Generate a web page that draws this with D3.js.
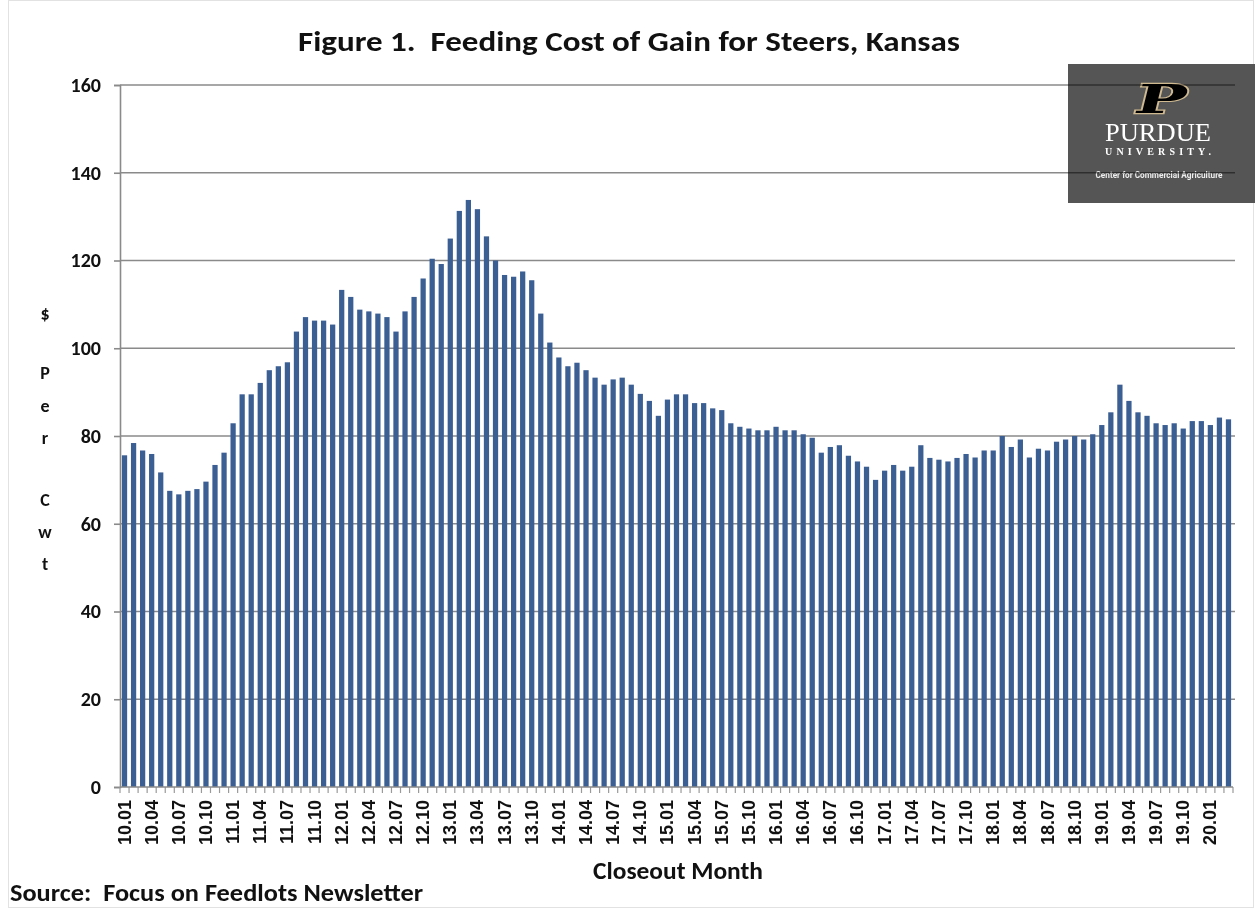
<!DOCTYPE html>
<html>
<head>
<meta charset="utf-8">
<script src="https://cdn.jsdelivr.net/npm/d3@7"></script>
<style>
  html, body { margin: 0; padding: 0; background: #fff; }
  svg { display: block; }
  text { white-space: pre; }
</style>
</head>
<body>
<svg id="chart" width="1255" height="909"></svg>
<script>
// ---- Data ----
const years = ["10","11","12","13","14","15","16","17","18","19","20"];
const months = ["01","02","03","04","05","06","07","08","09","10","11","12"];
const values = [
  75.6, 78.4, 76.7, 75.9, 71.7, 67.5, 66.7, 67.5, 67.9, 69.6, 73.4, 76.2,
  82.9, 89.5, 89.5, 92.1, 95.0, 95.9, 96.8, 103.8, 107.1, 106.3, 106.3, 105.4,
  113.3, 111.7, 108.8, 108.4, 107.9, 107.1, 103.8, 108.4, 111.7, 115.9, 120.4, 119.2,
  125.0, 131.3, 133.8, 131.7, 125.5, 120.0, 116.7, 116.3, 117.5, 115.5, 107.9, 101.3,
  97.9, 95.9, 96.7, 95.0, 93.3, 91.7, 92.9, 93.3, 91.7, 89.6, 88.0, 84.6,
  88.3, 89.5, 89.5, 87.5, 87.5, 86.3, 85.9, 82.9, 82.1, 81.7, 81.3, 81.3,
  82.1, 81.3, 81.3, 80.4, 79.6, 76.2, 77.5, 77.9, 75.5, 74.2, 73.0, 70.0,
  72.1, 73.4, 72.1, 73.0, 77.9, 75.0, 74.6, 74.2, 75.0, 75.9, 75.1, 76.7,
  76.7, 80.0, 77.5, 79.2, 75.1, 77.1, 76.7, 78.7, 79.2, 80.0, 79.2, 80.4,
  82.5, 85.4, 91.7, 88.0, 85.4, 84.6, 82.9, 82.5, 82.9, 81.7, 83.4, 83.4,
  82.5, 84.2, 83.8
];
const categories = values.map((v, i) => years[Math.floor(i / 12)] + "." + months[i % 12]);
const tickLabels = categories.filter((c, i) => i % 3 === 0);
const yTicks = [0, 20, 40, 60, 80, 100, 120, 140, 160];

const title = "Figure 1.  Feeding Cost of Gain for Steers, Kansas";
const yLabelChars = ["$", "P", "e", "r", "C", "w", "t"];
const xTitle = "Closeout Month";
const source = "Source:  Focus on Feedlots Newsletter";

// ---- Layout ----
const svg = d3.select("#chart");
const pLeft = 120, pRight = 1233, pTop = 85, pBottom = 787;
const calibri = "Carlito, Lato, 'Open Sans', sans-serif";
const arial = "'Liberation Sans', Arial, sans-serif";

const x = d3.scaleBand().domain(categories).range([pLeft, pRight]).paddingInner(0.42).paddingOuter(0.21);
const y = d3.scaleLinear().domain([0, 160]).range([pBottom, pTop]);

// outer frame
svg.append("rect").attr("x", 8.5).attr("y", 0.5).attr("width", 1245).attr("height", 907)
  .attr("fill", "none").attr("stroke", "#e2e2e2").attr("stroke-width", 1);

// Purdue logo box (drawn under the gridlines)
const logo = svg.append("g");
logo.append("rect").attr("x", 1068).attr("y", 64).attr("width", 187).attr("height", 139).attr("fill", "#555555");
logo.append("text").attr("x", 0).attr("y", 0)
  .attr("transform", "translate(1158,113) skewX(-14) scale(1.8,1.05)")
  .attr("text-anchor", "middle")
  .attr("font-family", "'DejaVu Serif', serif").attr("font-weight", "bold").attr("font-size", 38)
  .attr("fill", "#000").attr("stroke", "#cfb991").attr("stroke-width", 2.2).attr("paint-order", "stroke")
  .text("P");
logo.append("text").attr("x", 1158).attr("y", 141).attr("text-anchor", "middle")
  .attr("font-family", "'Liberation Serif', 'DejaVu Serif', serif").attr("font-size", 25)
  .attr("fill", "#fff").attr("textLength", 106).attr("lengthAdjust", "spacingAndGlyphs").text("PURDUE");
logo.append("text").attr("x", 1158).attr("y", 155).attr("text-anchor", "middle")
  .attr("font-family", "'Liberation Serif', 'DejaVu Serif', serif").attr("font-weight", "bold").attr("font-size", 10)
  .attr("fill", "#fff").attr("textLength", 106).attr("lengthAdjust", "spacing").text("UNIVERSITY.");
logo.append("text").attr("x", 1159).attr("y", 178).attr("text-anchor", "middle")
  .attr("font-family", "'Liberation Sans Narrow', 'Roboto', sans-serif").attr("font-weight", "bold").attr("font-size", 9.5)
  .attr("fill", "#eeeeee").attr("textLength", 127).attr("lengthAdjust", "spacingAndGlyphs").text("Center for Commercial Agriculture");

// gridlines
svg.append("g").style("mix-blend-mode", "multiply")
  .selectAll("line").data(yTicks.filter(d => d > 0)).join("line")
  .attr("x1", pLeft).attr("x2", pRight + 2)
  .attr("y1", d => y(d)).attr("y2", d => y(d))
  .attr("stroke", "#8a8a8a").attr("stroke-width", 1.6);

// bars
svg.append("g").selectAll("rect").data(values).join("rect")
  .attr("x", (d, i) => x(categories[i]))
  .attr("width", x.bandwidth())
  .attr("y", d => y(d))
  .attr("height", d => y(0) - y(d))
  .attr("fill", "#3c5f93");

// y axis
const yAxis = d3.axisLeft(y).tickValues(yTicks).tickSize(6).tickPadding(13).tickFormat(d3.format("d"));
const yg = svg.append("g").attr("transform", `translate(${pLeft},0)`).call(yAxis);
yg.select(".domain").attr("stroke", "#8a8a8a").attr("stroke-width", 1.6);
yg.selectAll(".tick line").attr("stroke", "#8a8a8a").attr("stroke-width", 1.6);
yg.selectAll(".tick text").attr("font-family", calibri).attr("font-weight", "bold")
  .attr("font-size", 20).attr("fill", "#111");

// x axis: ticks at category boundaries
const step = x.step();
const boundaries = d3.range(categories.length + 1).map(i => pLeft + i * step);
svg.append("g").selectAll("line").data(boundaries).join("line")
  .attr("x1", d => d).attr("x2", d => d).attr("y1", pBottom).attr("y2", pBottom + 6)
  .attr("stroke", "#9a9a9a").attr("stroke-width", 1.2);
svg.append("line").attr("x1", pLeft).attr("x2", pRight).attr("y1", pBottom).attr("y2", pBottom)
  .attr("stroke", "#8a8a8a").attr("stroke-width", 1.6);

svg.append("g").selectAll("text").data(tickLabels).join("text")
  .attr("transform", d => `translate(${x(d) + x.bandwidth() / 2 + 6},800) rotate(-90)`)
  .attr("text-anchor", "end")
  .attr("font-family", arial).attr("font-weight", "bold").attr("font-size", 18).attr("fill", "#111")
  .text(d => d);

// titles
svg.append("text").attr("x", 629).attr("y", 51).attr("text-anchor", "middle")
  .attr("font-family", calibri).attr("font-weight", "bold").attr("font-size", 29).attr("fill", "#111")
  .attr("textLength", 662).attr("lengthAdjust", "spacingAndGlyphs")
  .text(title);

svg.append("g").selectAll("text").data(yLabelChars).join("text")
  .attr("x", 45)
  .attr("y", (d, i) => [320, 379, 412, 444, 506, 538, 570][i])
  .attr("text-anchor", "middle")
  .attr("font-family", calibri).attr("font-weight", "bold").attr("font-size", 18).attr("fill", "#111")
  .text(d => d);

svg.append("text").attr("x", 678).attr("y", 879).attr("text-anchor", "middle")
  .attr("font-family", calibri).attr("font-weight", "bold").attr("font-size", 24).attr("fill", "#111")
  .attr("textLength", 170).attr("lengthAdjust", "spacingAndGlyphs")
  .text(xTitle);

svg.append("text").attr("x", 10).attr("y", 901)
  .attr("font-family", calibri).attr("font-weight", "bold").attr("font-size", 24).attr("fill", "#111")
  .attr("textLength", 413).attr("lengthAdjust", "spacingAndGlyphs")
  .text(source);
</script>
</body>
</html>
